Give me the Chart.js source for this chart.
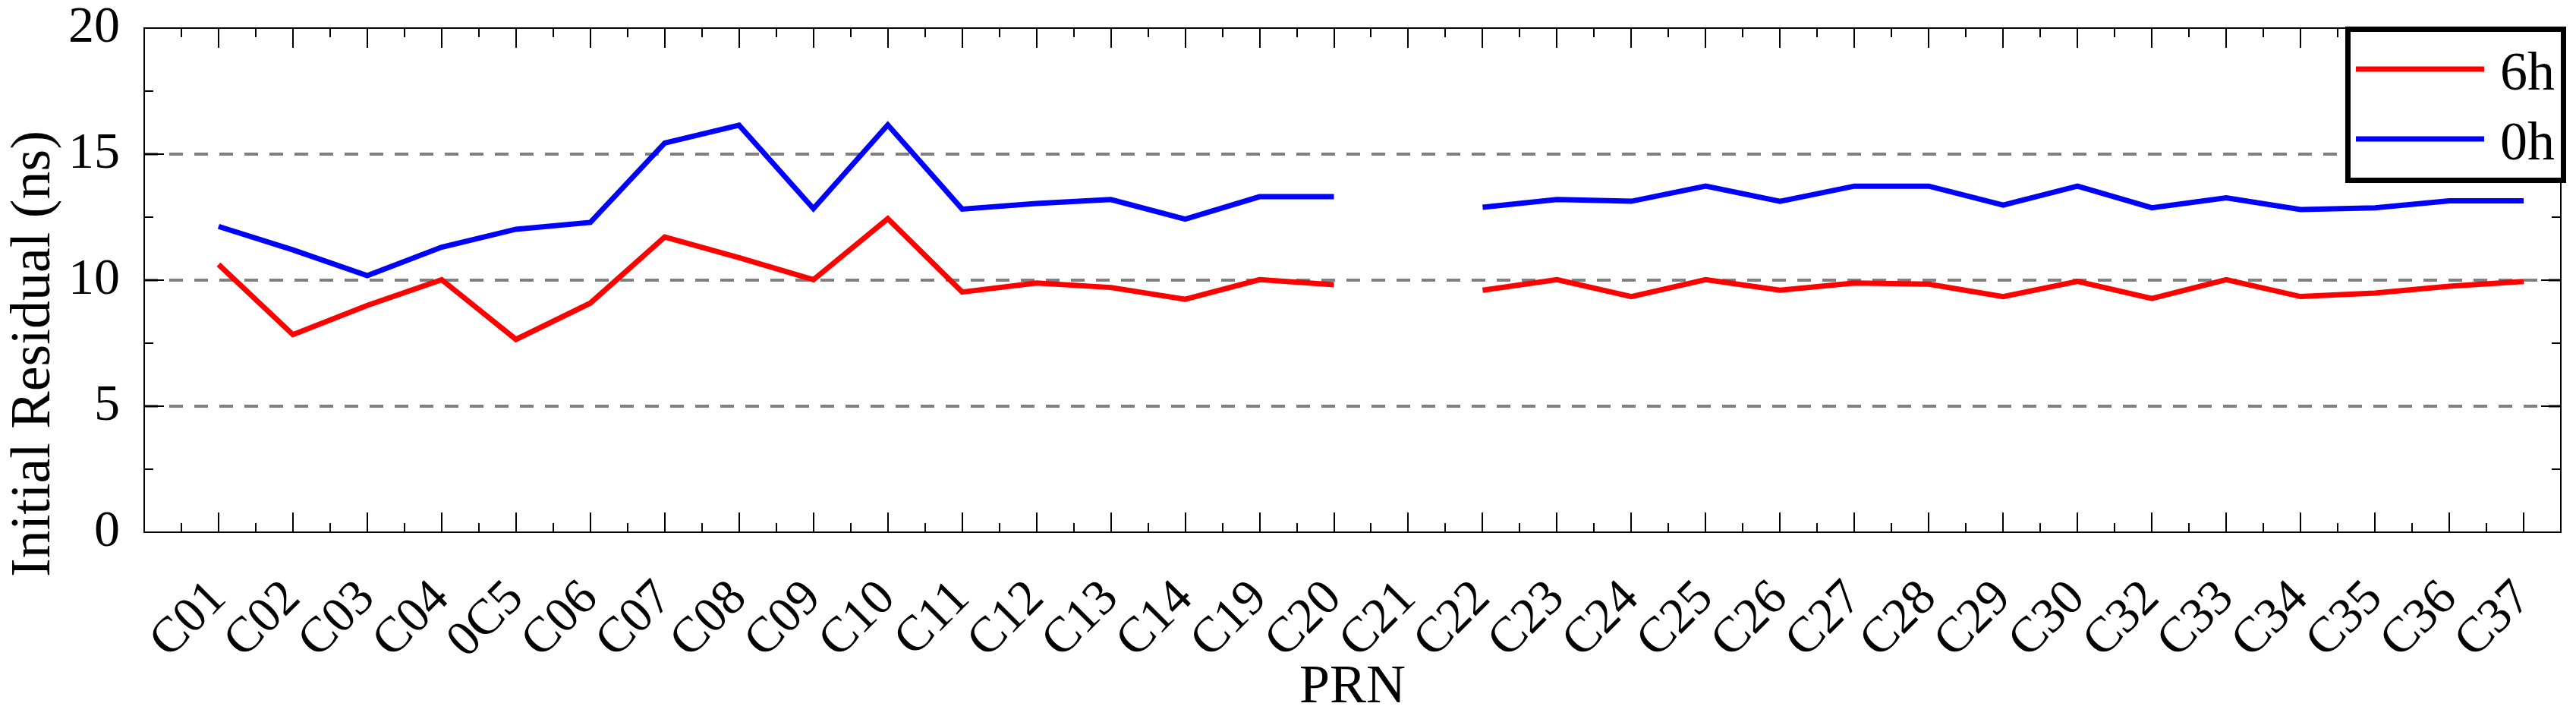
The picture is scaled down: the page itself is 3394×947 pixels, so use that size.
<!DOCTYPE html>
<html>
<head>
<meta charset="utf-8">
<title>Initial Residual by PRN</title>
<script src="https://cdn.jsdelivr.net/npm/chart.js@4/dist/chart.umd.min.js"></script>
<style>
  html, body { margin: 0; padding: 0; background: #fff; }
  #grafico { display: block; }
</style>
</head>
<body>
<canvas id="grafico" width="3394" height="947"></canvas>
<script>
// Datos
const categorias = ['C01', 'C02', 'C03', 'C04', '0C5', 'C06', 'C07', 'C08', 'C09', 'C10', 'C11',
    'C12', 'C13', 'C14', 'C19', 'C20', 'C21', 'C22', 'C23', 'C24', 'C25', 'C26', 'C27', 'C28',
    'C29', 'C30', 'C32', 'C33', 'C34', 'C35', 'C36', 'C37'];
const residuo6h = [10.62, 7.84, 9.0, 10.02, 7.65, 9.09, 11.71, 10.89, 10.02, 12.44, 9.53,
    9.89, 9.71, 9.24, 10.02, 9.82, null, 9.6, 10.02, 9.35, 10.02, 9.6, 9.89, 9.84,
    9.35, 9.95, 9.27, 10.02, 9.35, 9.49, 9.76, 9.95];
const residuo0h = [12.13, 11.2, 10.18, 11.31, 12.02, 12.29, 15.44, 16.15, 12.84, 16.16, 12.82,
    13.04, 13.2, 12.42, 13.31, 13.31, null, 12.89, 13.2, 13.13, 13.73, 13.13, 13.73, 13.73,
    12.98, 13.73, 12.87, 13.27, 12.8, 12.87, 13.15, 13.15];
const ticksY = [0, 5, 10, 15, 20];
const lineasGuia = [5, 10, 15];

const fuente = '"Liberation Serif", "Times New Roman", serif';

// Marco con marcas hacia dentro (estilo MATLAB)
const marco = {
    id: 'marco',
    afterDatasetsDraw(chart) {
        const {ctx, chartArea: a, scales: {x, y}} = chart;
        ctx.save();
        ctx.strokeStyle = '#000';
        ctx.lineWidth = 2;
        ctx.strokeRect(a.left, a.top, a.right - a.left, a.bottom - a.top);
        ctx.beginPath();
        for (let v = 0.5; v < categorias.length + 0.5; v += 0.5) {
            const px = Math.round(x.getPixelForValue(v));
            const largo = Number.isInteger(v) ? 26 : 12;
            ctx.moveTo(px, a.bottom); ctx.lineTo(px, a.bottom - largo);
            ctx.moveTo(px, a.top); ctx.lineTo(px, a.top + largo);
        }
        for (let v = 2.5; v < 20; v += 2.5) {
            const py = Math.round(y.getPixelForValue(v));
            const largo = v % 5 === 0 ? 26 : 12;
            ctx.moveTo(a.left, py); ctx.lineTo(a.left + largo, py);
            ctx.moveTo(a.right, py); ctx.lineTo(a.right - largo, py);
        }
        ctx.stroke();
        ctx.restore();
    }
};

// Leyenda en caja dentro del área y título del eje Y
const leyenda = {
    id: 'leyenda',
    afterDraw(chart) {
        const {ctx, chartArea: a} = chart;
        ctx.save();
        const izq = a.right - 284, arriba = a.top - 2, ancho = 291, alto = 206;
        ctx.fillStyle = '#fff';
        ctx.fillRect(izq, arriba, ancho, alto);
        ctx.strokeStyle = '#000';
        ctx.lineWidth = 7;
        ctx.strokeRect(izq + 3.5, arriba + 3.5, ancho - 7, alto - 7);
        ctx.font = '72px ' + fuente;
        ctx.textBaseline = 'alphabetic';
        ctx.textAlign = 'left';
        chart.data.datasets.forEach((ds, k) => {
            const yy = arriba + 56 + k * 92;
            ctx.strokeStyle = ds.borderColor;
            ctx.lineWidth = 7;
            ctx.beginPath();
            ctx.moveTo(izq + 14, yy);
            ctx.lineTo(izq + 183, yy);
            ctx.stroke();
            ctx.fillStyle = '#000';
            ctx.fillText(ds.label, izq + 204, yy + 27);
        });

        ctx.translate(65, 466);
        ctx.rotate(-Math.PI / 2);
        ctx.font = '74px ' + fuente;
        ctx.textAlign = 'center';
        ctx.fillStyle = '#000';
        ctx.fillText('Initial Residual (ns)', 0, 0);
        ctx.restore();
    }
};

new Chart(document.getElementById('grafico'), {
    type: 'line',
    data: {
        datasets: [{
            label: '6h',
            data: residuo6h.map((v, i) => ({x: i + 1, y: v})),
            borderColor: '#FF0000',
            borderWidth: 7,
            pointRadius: 0,
            tension: 0,
            spanGaps: false
        }, {
            label: '0h',
            data: residuo0h.map((v, i) => ({x: i + 1, y: v})),
            borderColor: '#0000FF',
            borderWidth: 7,
            pointRadius: 0,
            tension: 0,
            spanGaps: false
        }]
    },
    options: {
        responsive: false,
        animation: false,
        devicePixelRatio: 1,
        layout: {padding: {top: 37, right: 20, left: 0, bottom: 0}},
        plugins: {
            legend: {display: false},
            tooltip: {enabled: false}
        },
        scales: {
            x: {
                type: 'linear',
                min: 0,
                max: categorias.length + 0.5,
                afterBuildTicks: (eje) => {
                    eje.ticks = categorias.map((c, i) => ({value: i + 1}));
                },
                afterFit: (eje) => {
                    eje.height = 246;
                    eje.paddingLeft = 0;
                    eje.paddingRight = 0;
                },
                grid: {display: false, drawTicks: false},
                border: {display: false},
                ticks: {
                    autoSkip: false,
                    minRotation: 45,
                    maxRotation: 45,
                    padding: 49,
                    color: '#000',
                    font: {family: fuente, size: 66},
                    callback: (v) => categorias[v - 1] ?? ''
                },
                title: {
                    display: true,
                    text: 'PRN',
                    color: '#000',
                    font: {family: fuente, size: 72, lineHeight: 1},
                    padding: {top: 0, bottom: 5}
                }
            },
            y: {
                min: 0,
                max: 20,
                afterBuildTicks: (eje) => {
                    eje.ticks = ticksY.map(v => ({value: v}));
                },
                afterFit: (eje) => {
                    eje.width = 190;
                    eje.paddingTop = 0;
                    eje.paddingBottom = 0;
                },
                grid: {
                    drawTicks: false,
                    lineWidth: 4,
                    color: (c) => lineasGuia.includes(c.tick && c.tick.value) ? '#808080' : 'rgba(0,0,0,0)'
                },
                border: {display: false, dash: [18, 15]},
                ticks: {
                    padding: 32,
                    color: '#000',
                    font: {family: fuente, size: 68}
                }
            }
        }
    },
    plugins: [marco, leyenda]
});
</script>
</body>
</html>
